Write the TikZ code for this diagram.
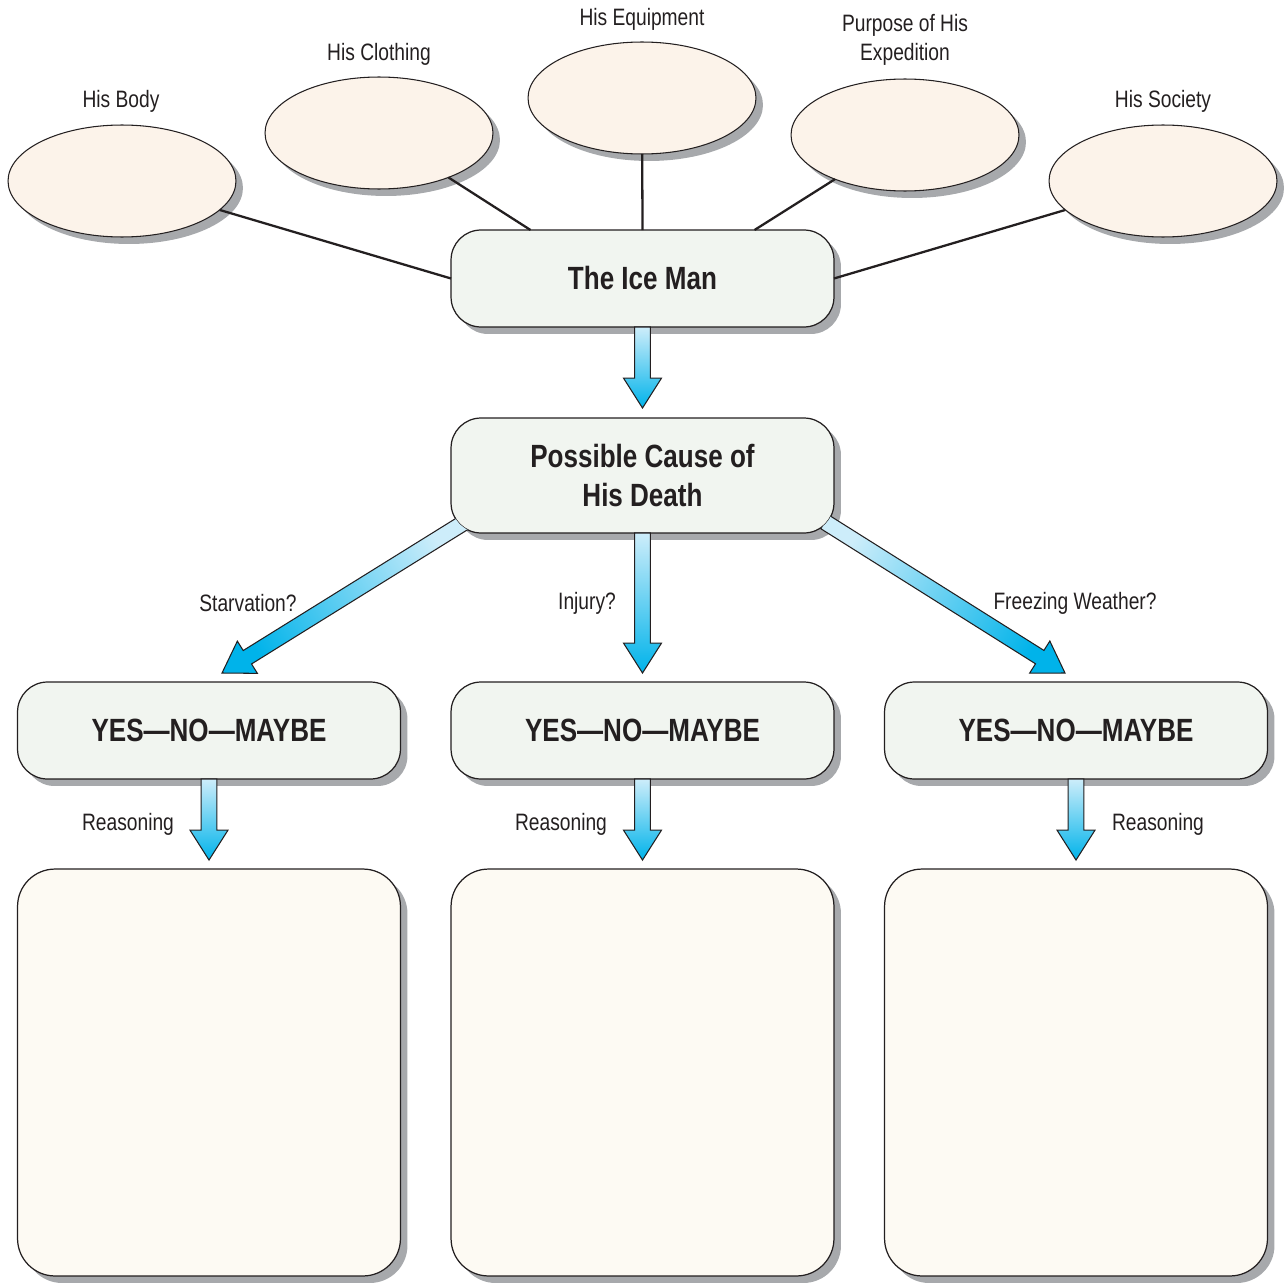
\documentclass[tikz,border=0pt]{standalone}
\usepackage{fontspec}
\setmainfont[FakeStretch=0.81]{Liberation Sans}
\usepackage{tikz}
\usetikzlibrary{calc,shadows,shapes.geometric}
\definecolor{Ink}{HTML}{231F20}
\definecolor{Peach}{HTML}{FCF3EA}
\definecolor{Frost}{HTML}{F1F5F0}
\definecolor{Paper}{HTML}{FDFAF3}
\definecolor{Shade}{HTML}{A7A9AC}
\definecolor{IceLight}{HTML}{CDEDFA}
\definecolor{IceDark}{HTML}{00B3EA}
\newcommand{\lblfont}{\fontsize{13.5}{16.5}\selectfont}
\newcommand{\headfont}{\bfseries\fontsize{18.3}{22.2}\selectfont}
% block arrow with a blue gradient, from #1 to the tip at #2
\newcommand{\fatarrow}[2]{%
  \path let \p1=(#1), \p2=(#2) in
    \pgfextra{\pgfmathsetmacro\arrang{atan2(\y2-\y1,\x2-\x1)}%
      \pgfmathsetmacro\arrlen{veclen(\x2-\x1,\y2-\y1)}%
      \pgfmathsetmacro\shang{\arrang+90}%
      \xdef\arrang{\arrang}\xdef\arrlen{\arrlen}\xdef\shang{\shang}};
  \begin{scope}[shift={(#1)},rotate=\arrang,x=1pt,y=1pt]
    \shade[fatarr,shading angle=\shang] (0,-4.5) -- (\arrlen-17,-4.5) -- (\arrlen-17,-10.8)
      -- (\arrlen,0) -- (\arrlen-17,10.8) -- (\arrlen-17,4.5) -- (0,4.5) -- cycle;
  \end{scope}}

\begin{document}
\begin{tikzpicture}[x=0.02cm,y=-0.02cm,
    shadowed/.style={drop shadow={shadow xshift=0.14cm,shadow yshift=-0.14cm,fill=Shade,opacity=1}},
    topic/.style={ellipse,draw=Ink,line width=0.6pt,fill=Peach,minimum width=4.56cm,
      minimum height=2.24cm,inner sep=0pt,outer sep=0pt,shadowed},
    hub/.style={rectangle,rounded corners=0.6cm,draw=Ink,line width=0.7pt,fill=Frost,
      minimum width=7.66cm,minimum height=1.94cm,inner sep=0pt,outer sep=0pt,shadowed,
      font=\headfont,text=Ink,align=center},
    notebox/.style={rectangle,rounded corners=0.75cm,draw=Ink,line width=0.7pt,fill=Paper,
      minimum width=7.66cm,minimum height=8.14cm,inner sep=0pt,outer sep=0pt,shadowed},
    lbl/.style={font=\lblfont,text=Ink,align=center},
    spoke/.style={draw=Ink,line width=1.3pt},
    fatarr/.style={draw=Ink,line width=0.6pt,sharp corners,top color=IceLight,bottom color=IceDark}]
  \useasboundingbox (0,0) rectangle (1287,1284);

  % the five topics
  \node[topic] (body) at (122,181) {};
  \node[topic] (clothing) at (379,133) {};
  \node[topic] (equip) at (642,98) {};
  \node[topic] (purpose) at (905,135) {};
  \node[topic] (society) at (1163,181) {};
  \node[lbl] (lbody) at (121,101) {His Body};
  \node[lbl] (lclothing) at (379,54) {His Clothing};
  \node[lbl] (lequip) at (642,19) {His Equipment};
  \node[lbl] (lpurpose) at (905,40) {Purpose of His\\Expedition};
  \node[lbl] (lsociety) at (1163,101) {His Society};

  % main boxes
  \node[hub] (ice) at (642.5,278.5) {The Ice Man};
  \node[hub,minimum height=2.3cm] (poss) at (642.5,475.5) {Possible Cause of\\His Death};
  \node[hub] (yes1) at (209,730.5) {YES---NO---MAYBE};
  \node[hub] (yes2) at (642.5,730.5) {YES---NO---MAYBE};
  \node[hub] (yes3) at (1076,730.5) {YES---NO---MAYBE};
  \node[notebox] (reason1) at (209,1072.5) {};
  \node[notebox] (reason2) at (642.5,1072.5) {};
  \node[notebox] (reason3) at (1076,1072.5) {};

  % spokes
  \draw[spoke] (body) -- (ice.west);
  \draw[spoke] (clothing) -- ($(ice.north)+(-112,0)$);
  \draw[spoke] (equip) -- (ice.north);
  \draw[spoke] (purpose) -- ($(ice.north)+(112,0)$);
  \draw[spoke] (society) -- (ice.east);

  % arrows
  \fatarrow{ice.south}{$(poss.north)+(0,-10)$}
  \fatarrow{poss.south}{$(yes2.north)+(0,-9)$}
  \begin{scope}[even odd rule]
    \clip[rounded corners=0.6cm] (-50,-50) rectangle (1337,1334)
      (poss.south west) rectangle (poss.north east);
    \fatarrow{$(poss.south west)+(14,-11)$}{$(yes1.north)+(13,-9)$}
    \fatarrow{$(poss.south east)+(-9,-11)$}{$(yes3.north)+(-11,-9)$}
  \end{scope}
  \fatarrow{yes1.south}{$(reason1.north)+(0,-9)$}
  \fatarrow{yes2.south}{$(reason2.north)+(0,-9)$}
  \fatarrow{yes3.south}{$(reason3.north)+(0,-9)$}

  \node[lbl] (starv) at (248,603) {Starvation?};
  \node[lbl] (injury) at (587,603) {Injury?};
  \node[lbl] (freeze) at (1075,603) {Freezing Weather?};
  \node[lbl] (why1) at (128,824) {Reasoning};
  \node[lbl] (why2) at (561,824) {Reasoning};
  \node[lbl] (why3) at (1158,824) {Reasoning};
\end{tikzpicture}
\end{document}
